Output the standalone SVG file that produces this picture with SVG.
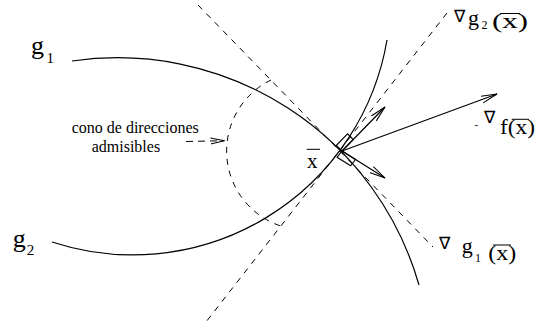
<svg xmlns="http://www.w3.org/2000/svg" width="536" height="326" viewBox="0 0 536 326">
<defs>
<style>
.curve{fill:none;stroke:#000;stroke-width:1.2}
.dash{fill:none;stroke:#000;stroke-width:1;stroke-dasharray:6 6}
.arrow{fill:none;stroke:#000;stroke-width:1.2;marker-end:url(#ah)}
.box{fill:none;stroke:#000;stroke-width:1.1}
.t{font-family:"Liberation Serif","Times New Roman",serif;fill:#000}
.nab{font-family:"DejaVu Sans",sans-serif;font-size:17px;fill:#000}
.bar{stroke:#000;stroke-width:1}
</style>
<marker id="ah" markerWidth="18" markerHeight="10" refX="16" refY="4" orient="auto" markerUnits="userSpaceOnUse">
<path d="M0,0.5 L16,4 L0,7.5" fill="none" stroke="#000" stroke-width="1"/>
</marker>
<marker id="ah2" markerWidth="16" markerHeight="8" refX="14" refY="3.5" orient="auto" markerUnits="userSpaceOnUse">
<path d="M0,0.5 L14,3.5 L0,6.5" fill="none" stroke="#000" stroke-width="1"/>
</marker>
</defs>
<g id="curve-g1"><path class="curve" d="M72,61 A313.6,313.6 0 0 1 419,285"/></g>
<g id="curve-g2"><path class="curve" d="M52,242 A258,258 0 0 0 387,40"/></g>
<g id="connectors">
<line class="dash" x1="198" y1="5" x2="433" y2="247"/>
<line class="dash" x1="447" y1="13" x2="206" y2="322"/>
<path class="dash" d="M271,80 A79,79 0 0 0 280.2,225.8"/>
<line x1="186" y1="141.5" x2="224.5" y2="140.7" stroke="#000" stroke-width="1" stroke-dasharray="7 5" marker-end="url(#ah2)"/>
<line class="arrow" x1="342" y1="151" x2="385" y2="107"/>
<line class="arrow" x1="342" y1="151" x2="385" y2="178"/>
<line class="arrow" x1="342" y1="151" x2="497" y2="94"/>
<polygon class="box" points="342,151 353.2,139.6 347.6,133.9 336.4,145.3"/>
<polygon class="box" points="342,151 355.5,159.5 350.6,165.8 337.1,157.3"/>
</g>
<g id="label-g1"><text class="t" x="31" y="54" font-size="26">g</text><text class="t" x="46.5" y="63.3" font-size="15">1</text></g>
<g id="label-g2"><text class="t" x="12.7" y="247" font-size="26">g</text><text class="t" x="26.7" y="255" font-size="15">2</text></g>
<g id="label-cone"><text class="t" x="71.7" y="133.3" font-size="16">cono de direcciones</text><text class="t" x="91.7" y="151.7" font-size="16">admisibles</text></g>
<g id="label-xbar"><text class="t" x="307" y="167.5" font-size="21">x</text><line class="bar" x1="306.7" y1="149.3" x2="320" y2="149.3"/></g>
<g id="label-grad-g2"><text class="nab" x="454" y="22">∇</text><text class="t" x="468" y="25" font-size="22">g</text><text class="t" x="481.5" y="28.5" font-size="12">2</text><text class="t" x="492" y="27.5" font-size="22" textLength="36" lengthAdjust="spacingAndGlyphs">(x)</text><line class="bar" x1="500" y1="13.5" x2="520" y2="13.5"/></g>
<g id="label-grad-g1"><text class="nab" x="439" y="249">∇</text><text class="t" x="461.7" y="253" font-size="22">g</text><text class="t" x="475" y="261.7" font-size="12">1</text><text class="t" x="488.3" y="260" font-size="22" textLength="28" lengthAdjust="spacingAndGlyphs">(x)</text><line class="bar" x1="493" y1="245" x2="511" y2="245"/></g>
<g id="label-grad-f"><text class="t" x="474.5" y="127.5" font-size="11">-</text><text class="nab" x="484" y="123">∇</text><text class="t" x="500" y="134" font-size="22" textLength="35" lengthAdjust="spacingAndGlyphs">f(x)</text><line class="bar" x1="511.7" y1="119.3" x2="529" y2="119.3"/></g>
</svg>
